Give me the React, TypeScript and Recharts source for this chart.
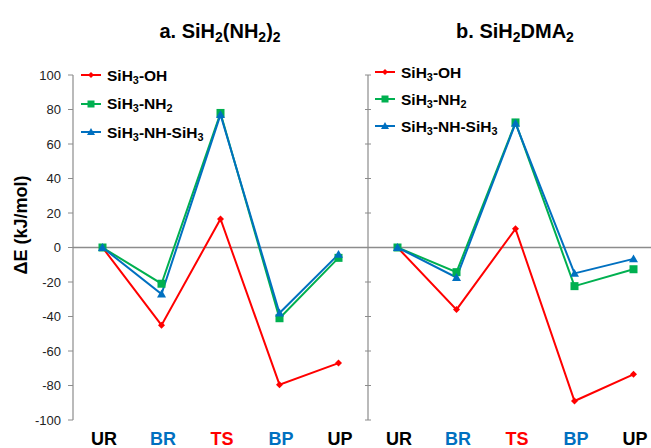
import React from "react";
import { Line, LineChart, ReferenceLine, XAxis, YAxis } from "recharts";

const CATEGORIES = ["UR", "BR", "TS", "BP", "UP"];
const CATEGORY_COLORS = ["#000000", "#0070C0", "#FF0000", "#0070C0", "#000000"];

const Y_TICKS = [-100, -80, -60, -40, -20, 0, 20, 40, 60, 80, 100];

// a. SiH2(NH2)2
const A_OH = [0, -45, 16.5, -79.5, -67];
const A_NH2 = [0, -21, 78, -41, -6];
const A_NHSIH3 = [0, -27, 77, -38, -4];

// b. SiH2DMA2
const B_OH = [0, -36, 10.8, -89, -73.5];
const B_NH2 = [0, -14.3, 72.5, -22.4, -12.6];
const B_NHSIH3 = [0, -17.4, 72, -15, -6.6];

const RED = "#FF0000";
const GREEN = "#00B050";
const BLUE = "#0070C0";
const AXIS_GRAY = "#8c8c8c";
const FONT = "'Liberation Sans', Arial, sans-serif";

const CHART_H = 448;
const PLOT_TOP = 75;
const XAXIS_H = 28;

const buildRows = (oh: number[], nh2: number[], nhsi: number[]) =>
  CATEGORIES.map((c, i) => ({ cat: c, oh: oh[i], nh2: nh2[i], nhsi: nhsi[i] }));

const diamondDot = (p: any) => {
  const { cx, cy, index } = p;
  const r = 3.5;
  return (
    <path
      key={`d-${index}`}
      d={`M${cx},${cy - r}L${cx + r},${cy}L${cx},${cy + r}L${cx - r},${cy}Z`}
      fill={RED}
    />
  );
};

const squareDot = (p: any) => {
  const { cx, cy, index } = p;
  const s = 4;
  return <rect key={`s-${index}`} x={cx - s} y={cy - s} width={s * 2} height={s * 2} fill={GREEN} />;
};

const triangleDot = (p: any) => {
  const { cx, cy, index } = p;
  const r = 4.5;
  return (
    <path
      key={`t-${index}`}
      d={`M${cx},${cy - r}L${cx + r},${cy + r * 0.75}L${cx - r},${cy + r * 0.75}Z`}
      fill={BLUE}
    />
  );
};

const CategoryTick = (p: any) => {
  const { x, y, payload, index } = p;
  return (
    <text
      x={x + 1.5}
      y={y}
      dy={25}
      textAnchor="middle"
      fontFamily={FONT}
      fontWeight="bold"
      fontSize={18}
      fill={CATEGORY_COLORS[index] ?? "#000"}
    >
      {payload.value}
    </text>
  );
};

const CrossTick = (p: any) => {
  const { x, y } = p;
  return <line x1={x - 3} x2={x + 3} y1={y} y2={y} stroke={AXIS_GRAY} strokeWidth={1} />;
};

const renderLines = () => [
  <Line key="oh" dataKey="oh" stroke={RED} strokeWidth={2} dot={diamondDot} isAnimationActive={false} />,
  <Line key="nh2" dataKey="nh2" stroke={GREEN} strokeWidth={2} dot={squareDot} isAnimationActive={false} />,
  <Line key="nhsi" dataKey="nhsi" stroke={BLUE} strokeWidth={2} dot={triangleDot} isAnimationActive={false} />,
];

const LegendBlock = ({ left, top, gap }: { left: number; top: number; gap: number }) => {
  const items = [
    { color: RED, kind: "diamond", label: <>SiH<sub>3</sub>-OH</> },
    { color: GREEN, kind: "square", label: <>SiH<sub>3</sub>-NH<sub>2</sub></> },
    { color: BLUE, kind: "triangle", label: <>SiH<sub>3</sub>-NH-SiH<sub>3</sub></> },
  ];
  return (
    <>
      {items.map((it, i) => (
        <div
          key={i}
          style={{
            position: "absolute",
            left,
            top: top + i * gap - 10,
            height: 20,
            display: "flex",
            alignItems: "center",
            fontFamily: FONT,
            fontWeight: "bold",
            fontSize: 15.5,
            color: "#000",
            whiteSpace: "nowrap",
          }}
        >
          <svg width={20} height={12} style={{ marginRight: 6 }}>
            <line x1={0} x2={20} y1={6} y2={6} stroke={it.color} strokeWidth={2} />
            {it.kind === "diamond" && <path d="M10,3L13,6L10,9L7,6Z" fill={it.color} />}
            {it.kind === "square" && <rect x={6.5} y={2.5} width={7} height={7} fill={it.color} />}
            {it.kind === "triangle" && <path d="M10,2L14,9L6,9Z" fill={it.color} />}
          </svg>
          <span style={{ lineHeight: "15px" }}>{it.label}</span>
        </div>
      ))}
    </>
  );
};

export default function App() {
  const rowsA = buildRows(A_OH, A_NH2, A_NHSIH3);
  const rowsB = buildRows(B_OH, B_NH2, B_NHSIH3);

  return (
    <div
      style={{
        position: "absolute",
        left: 0,
        top: 0,
        width: 651,
        height: 448,
        overflow: "hidden",
        background: "#fff",
      }}
    >
      <style>{`sub{font-size:0.7em;vertical-align:-0.25em;line-height:0}`}</style>
      {/* Left panel */}
      <div style={{ position: "absolute", left: 0, top: 0 }}>
        <LineChart width={368} height={CHART_H} data={rowsA} margin={{ top: PLOT_TOP, right: 0, bottom: 0, left: 0 }}>
          <XAxis
            dataKey="cat"
            scale="band"
            axisLine={false}
            tickLine={false}
            tickSize={0}
            tickMargin={0}
            height={XAXIS_H}
            interval={0}
            tick={CategoryTick}
          />
          <YAxis
            width={73}
            domain={[-100, 100]}
            ticks={Y_TICKS}
            interval={0}
            axisLine={{ stroke: AXIS_GRAY, strokeWidth: 1.2 }}
            tickLine={{ stroke: AXIS_GRAY }}
            tickSize={5}
            tickMargin={7}
            tick={{ fill: "#222", fontSize: 13, fontFamily: FONT }}
          />
          <ReferenceLine y={0} stroke={AXIS_GRAY} strokeWidth={1.5} />
          {renderLines()}
        </LineChart>
      </div>

      {/* Right panel */}
      <div style={{ position: "absolute", left: 358, top: 0 }}>
        <LineChart width={305} height={CHART_H} data={rowsB} margin={{ top: PLOT_TOP, right: 0, bottom: 0, left: 0 }}>
          <XAxis
            dataKey="cat"
            scale="band"
            axisLine={false}
            tickLine={false}
            tickSize={0}
            tickMargin={0}
            height={XAXIS_H}
            interval={0}
            tick={CategoryTick}
          />
          <YAxis
            width={10}
            domain={[-100, 100]}
            ticks={Y_TICKS}
            interval={0}
            axisLine={{ stroke: AXIS_GRAY, strokeWidth: 1.2 }}
            tickLine={false}
            tickSize={0}
            tickMargin={0}
            tick={CrossTick}
          />
          <ReferenceLine y={0} stroke={AXIS_GRAY} strokeWidth={1.5} />
          {renderLines()}
        </LineChart>
      </div>

      {/* Titles */}
      <div
        style={{
          position: "absolute",
          left: 120,
          width: 200,
          top: 20,
          textAlign: "center",
          fontFamily: FONT,
          fontWeight: "bold",
          fontSize: 20,
          lineHeight: "22px",
        }}
      >
        a. SiH<sub>2</sub>(NH<sub>2</sub>)<sub>2</sub>
      </div>
      <div
        style={{
          position: "absolute",
          left: 415,
          width: 200,
          top: 20,
          textAlign: "center",
          fontFamily: FONT,
          fontWeight: "bold",
          fontSize: 20,
          lineHeight: "22px",
        }}
      >
        b. SiH<sub>2</sub>DMA<sub>2</sub>
      </div>

      {/* Y axis title */}
      <div style={{ position: "absolute", left: 21, top: 225, width: 0, height: 0 }}>
        <div
          style={{
            position: "absolute",
            left: -80,
            top: -11,
            width: 160,
            height: 22,
            lineHeight: "22px",
            textAlign: "center",
            transform: "rotate(-90deg)",
            fontFamily: FONT,
            fontWeight: "bold",
            fontSize: 18,
            whiteSpace: "nowrap",
          }}
        >
          ΔE (kJ/mol)
        </div>
      </div>

      <LegendBlock left={81} top={75} gap={28.5} />
      <LegendBlock left={375} top={72} gap={27} />
    </div>
  );
}
